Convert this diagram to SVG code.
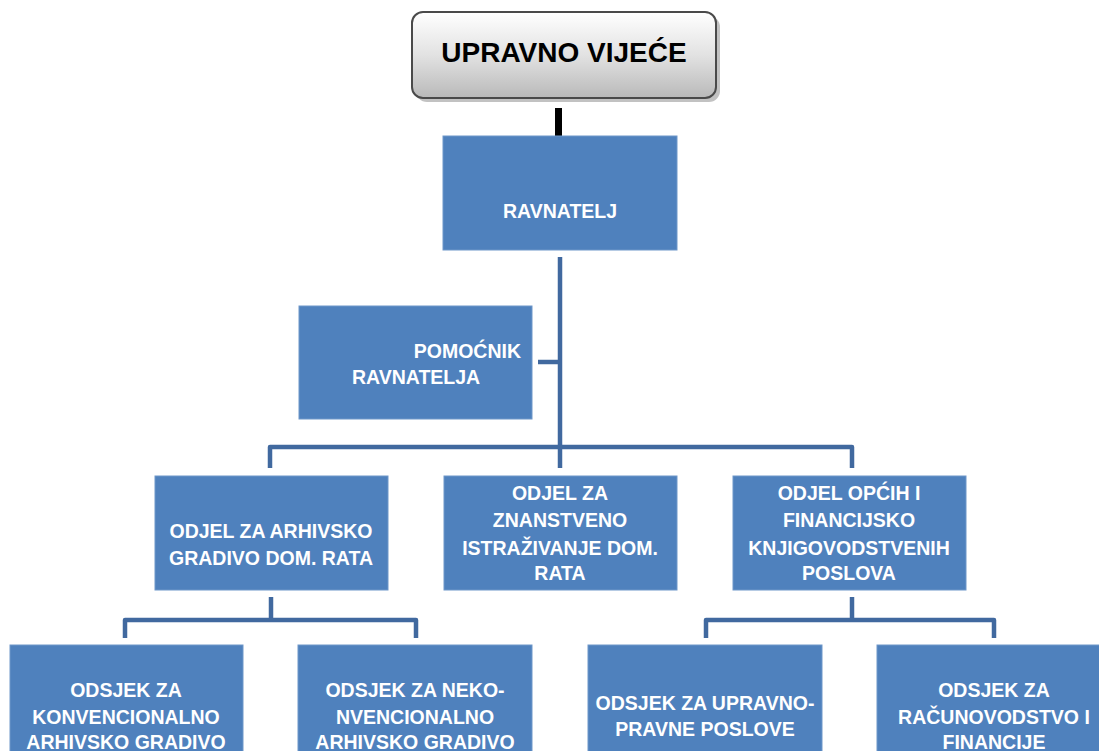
<svg xmlns="http://www.w3.org/2000/svg" width="1099" height="751" viewBox="0 0 1099 751">
<defs>
<linearGradient id="g" x1="0" y1="0" x2="0" y2="1">
<stop offset="0" stop-color="#ffffff"/>
<stop offset="0.5" stop-color="#e2e2e2"/>
<stop offset="1" stop-color="#b9b9b9"/>
</linearGradient>
<style>
.box{fill:#4f81bd;stroke:#6f97c9;stroke-width:1}
.t{font-family:"Liberation Sans",Arial,sans-serif;font-weight:bold;font-size:19.5px;fill:#ffffff;text-anchor:middle}
.c{fill:none;stroke:#41699f;stroke-width:4.5;stroke-linejoin:round}
</style>
</defs>
<rect width="1099" height="751" fill="#ffffff"/>
<g id="connectors">
<rect x="555" y="108" width="7" height="29" fill="#000000"/>
<path class="c" d="M560 257 V447"/>
<path class="c" d="M538 362 H560"/>
<path class="c" d="M270 468 V447 H852 V468"/>
<path class="c" d="M560 447 V468"/>
<path class="c" d="M271 597 V620"/>
<path class="c" d="M125 638 V620 H416 V638"/>
<path class="c" d="M852 597 V620"/>
<path class="c" d="M706 638 V620 H994 V638"/>
</g>
<g id="upravno-vijece">
<rect x="416" y="16" width="304" height="86" rx="11" fill="#9a9a9a" opacity="0.6"/>
<rect x="412" y="12" width="304" height="86" rx="11" fill="url(#g)" stroke="#4a4a4a" stroke-width="2"/>
<text x="564" y="62" font-family="Liberation Sans,Arial,sans-serif" font-weight="bold" font-size="28" fill="#000000" text-anchor="middle">UPRAVNO VIJEĆE</text>
</g>
<g id="ravnatelj">
<rect class="box" x="443" y="136" width="234" height="114"/>
<text class="t" x="560" y="218">RAVNATELJ</text>
</g>
<g id="pomocnik">
<rect class="box" x="299" y="306" width="233" height="113"/>
<text class="t" x="521" y="358" style="text-anchor:end">POMOĆNIK</text>
<text class="t" x="352" y="384" style="text-anchor:start">RAVNATELJA</text>
</g>
<g id="odjel-arhivsko">
<rect class="box" x="155" y="476" width="233" height="114"/>
<text class="t" x="271" y="538">ODJEL ZA ARHIVSKO</text>
<text class="t" x="271" y="565">GRADIVO DOM. RATA</text>
</g>
<g id="odjel-znanstveno">
<rect class="box" x="444" y="476" width="233" height="114"/>
<text class="t" x="560" y="500">ODJEL ZA</text>
<text class="t" x="560" y="527">ZNANSTVENO</text>
<text class="t" x="560" y="555">ISTRAŽIVANJE DOM.</text>
<text class="t" x="560" y="580">RATA</text>
</g>
<g id="odjel-opcih">
<rect class="box" x="733" y="476" width="233" height="114"/>
<text class="t" x="849" y="500">ODJEL OPĆIH I</text>
<text class="t" x="849" y="527">FINANCIJSKO</text>
<text class="t" x="849" y="555">KNJIGOVODSTVENIH</text>
<text class="t" x="849" y="580">POSLOVA</text>
</g>
<g id="odsjek-konvencionalno">
<rect class="box" x="10" y="645" width="233" height="114"/>
<text class="t" x="126" y="697">ODSJEK ZA</text>
<text class="t" x="126" y="724">KONVENCIONALNO</text>
<text class="t" x="126" y="749">ARHIVSKO GRADIVO</text>
</g>
<g id="odsjek-nekonvencionalno">
<rect class="box" x="298" y="645" width="234" height="114"/>
<text class="t" x="415" y="697">ODSJEK ZA NEKO-</text>
<text class="t" x="415" y="724">NVENCIONALNO</text>
<text class="t" x="415" y="749">ARHIVSKO GRADIVO</text>
</g>
<g id="odsjek-upravno">
<rect class="box" x="588" y="645" width="234" height="114"/>
<text class="t" x="705" y="710">ODSJEK ZA UPRAVNO-</text>
<text class="t" x="705" y="736">PRAVNE POSLOVE</text>
</g>
<g id="odsjek-racunovodstvo">
<rect class="box" x="877" y="645" width="234" height="114"/>
<text class="t" x="994" y="697">ODSJEK ZA</text>
<text class="t" x="994" y="724">RAČUNOVODSTVO I</text>
<text class="t" x="994" y="749">FINANCIJE</text>
</g>
</svg>
